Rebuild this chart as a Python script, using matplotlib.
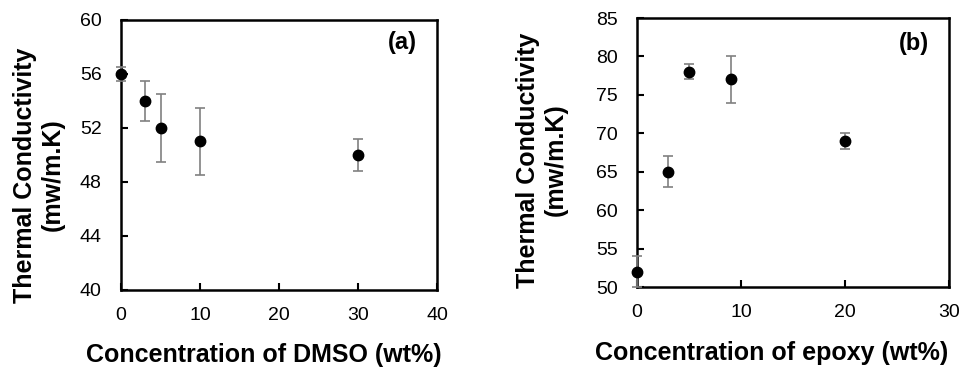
import matplotlib.pyplot as plt

plt.rcParams['font.family'] = ['Liberation Sans', 'DejaVu Sans']

# Panel (a): DMSO
dmso_conc = [0, 3, 5, 10, 30]
dmso_k = [56, 54, 52, 51, 50]
dmso_err = [0.5, 1.5, 2.5, 2.5, 1.2]

# Panel (b): epoxy
epoxy_conc = [0, 3, 5, 9, 20]
epoxy_k = [52, 65, 78, 77, 69]
epoxy_err = [2, 2, 1, 3, 1]

fig = plt.figure(figsize=(9.6, 3.68), dpi=100)
ax1 = fig.add_axes([121 / 960, 1 - 290 / 368, 316 / 960, 270 / 368])
ax2 = fig.add_axes([637 / 960, 1 - 287 / 368, 312 / 960, 269 / 368])


def draw(ax, x, y, err, xlim, ylim, xticks, yticks, xlabel, tag, tagy,
         xlab_pos, ylab_pos):
    ax.errorbar(x, y, yerr=err, fmt='o', color='black', markersize=7.5,
                ecolor='#808080', elinewidth=1.2, capsize=3.6, capthick=1.2,
                clip_on=False, zorder=3)
    ax.set_xlim(xlim)
    ax.set_ylim(ylim)
    ax.set_xticks(xticks)
    ax.set_yticks(yticks)
    ax.tick_params(direction='in', length=5, width=1.5, labelsize=14)
    ax.tick_params(axis='x', pad=12)
    ax.tick_params(axis='y', pad=14)
    for s in ax.spines.values():
        s.set_linewidth(1.8)
    # axis titles placed by hand (offset from the axes centre as in the original)
    ax.text(xlab_pos[0], xlab_pos[1], xlabel, transform=ax.transAxes,
            ha='center', va='center', fontsize=18, fontweight='bold')
    ax.text(ylab_pos[0], ylab_pos[1], 'Thermal Conductivity\n(mw/m.K)',
            transform=ax.transAxes, ha='center', va='center', rotation=90,
            fontsize=18, fontweight='bold', linespacing=1.2,
            multialignment='center')
    ax.text(0.935, tagy, tag, transform=ax.transAxes, ha='right', va='center',
            fontsize=17, fontweight='bold')


draw(ax1, dmso_conc, dmso_k, dmso_err, (0, 40), (40, 60),
     [0, 10, 20, 30, 40], [40, 44, 48, 52, 56, 60],
     'Concentration of DMSO (wt%)', '(a)', 0.915,
     (0.453, -0.241), (-0.26, 0.426))
draw(ax2, epoxy_conc, epoxy_k, epoxy_err, (0, 30), (50, 85),
     [0, 10, 20, 30], [50, 55, 60, 65, 70, 75, 80, 85],
     'Concentration of epoxy (wt%)', '(b)', 0.907,
     (0.433, -0.245), (-0.304, 0.472))

fig.savefig('out.png', dpi=100)
